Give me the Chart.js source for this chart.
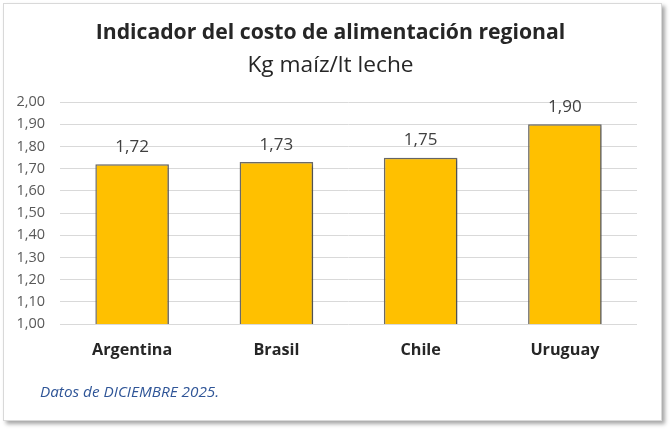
<!DOCTYPE html>
<html><head><meta charset="utf-8">
<script src="https://cdn.jsdelivr.net/npm/chart.js@4.4.1/dist/chart.umd.min.js"></script>
<style>
html,body{margin:0;padding:0;background:#fff;}
#box{position:absolute;left:3px;top:3px;width:657px;height:416px;border:1px solid #d9d9d9;background:#fff;box-shadow:3px 3px 4px rgba(0,0,0,0.35);}
#wrap{position:absolute;left:0;top:0;width:657px;height:416px;}
#note{position:absolute;left:36px;top:378px;line-height:18px;font-family:"Open Sans",sans-serif;font-style:italic;font-size:15.3px;color:#2F5597;}
</style></head>
<body>
<div id="box"><div id="wrap"><canvas id="c"></canvas></div><div id="note">Datos de DICIEMBRE 2025.</div></div>
<script>
const categories = ["Argentina", "Brasil", "Chile", "Uruguay"];
const values = [1.72, 1.73, 1.75, 1.90];
const titleText = "Indicador del costo de alimentación regional";
const subtitleText = "Kg maíz/lt leche";
const yMin = 1.0, yMax = 2.0, yStep = 0.1;

const fmt = v => v.toFixed(2).replace('.', ',');
const FONT = '"Open Sans", Lato, sans-serif';

const labelPlugin = {
  id: 'valueLabels',
  afterLayout(chart) {
    chart.boxes.forEach(b => {
      if (b.options && (b.options.text === titleText || b.options.text === subtitleText)) {
        b.left = 20; b.right = chart.width - 24;
      }
    });
  },
  beforeDatasetDraw(chart) {
    const ctx = chart.ctx; ctx.save();
    ctx.shadowColor = 'rgba(0,0,0,0.3)'; ctx.shadowOffsetX = 2; ctx.shadowOffsetY = 1; ctx.shadowBlur = 3;
  },
  afterDatasetDraw(chart) { chart.ctx.restore(); },
  afterDatasetsDraw(chart) {
    const ctx = chart.ctx; const meta = chart.getDatasetMeta(0);
    ctx.save();
    ctx.font = '17px ' + FONT; ctx.fillStyle = '#404040';
    ctx.textAlign = 'center'; ctx.textBaseline = 'middle';
    meta.data.forEach((bar, i) => { ctx.fillText(fmt(values[i]), bar.x, bar.y - 17); });
    ctx.restore();
  }
};

new Chart(document.getElementById('c'), {
  type: 'bar',
  data: { labels: categories, datasets: [{ data: values, backgroundColor: '#FFC000', borderColor: '#6b6b6b', borderWidth: 1.5, barPercentage: 1, categoryPercentage: 0.51 }] },
  options: {
    responsive: true, maintainAspectRatio: false, animation: false,
    layout: { padding: { top: 0, right: 24, left: 0, bottom: 0 } },
    plugins: {
      legend: { display: false }, tooltip: { enabled: false },
      title: { display: true, text: titleText, color: '#262626', font: { family: FONT, size: 21.2, weight: 'bold' }, padding: { top: 16.5, bottom: 5.5 } },
      subtitle: { display: true, text: subtitleText, color: '#262626', font: { family: FONT, size: 22.7 }, padding: { top: 0, bottom: 23.5 } }
    },
    scales: {
      x: {
        grid: { display: false, drawTicks: false }, border: { display: false },
        ticks: { color: '#262626', padding: 17, font: { family: FONT, size: 16.2, weight: 'bold' } },
        afterFit(s) { s.height = 96; }
      },
      y: {
        min: yMin, max: yMax,
        grid: { color: '#d9d9d9', lineWidth: 1, drawTicks: false }, border: { display: false },
        ticks: { stepSize: yStep, color: '#595959', padding: 15, font: { family: FONT, size: 14.5 }, callback: v => fmt(v) },
        afterFit(s) { s.width = 56; }
      }
    }
  },
  plugins: [labelPlugin]
});
</script>
</body></html>
